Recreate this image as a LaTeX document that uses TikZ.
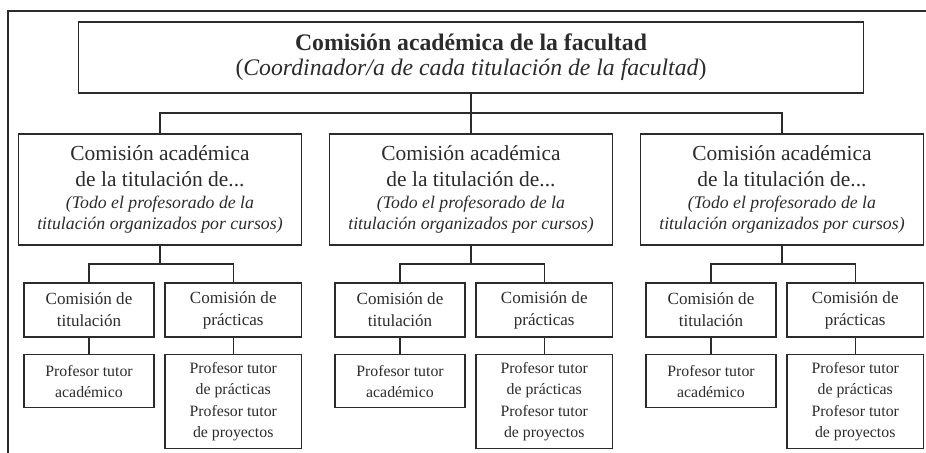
\documentclass[tikz,border=0pt]{standalone}
\usepackage{fontspec}
\setmainfont{Liberation Serif}
\definecolor{ink}{HTML}{2B2B2B}
\newcommand{\nota}[1]{{\fontsize{10.1}{12}\selectfont\itshape #1}}

\begin{document}
\begin{tikzpicture}[
        every node/.style={text=ink, inner sep=0pt, align=center},
        topbox/.style={draw=ink, line width=1.1pt, minimum width=15.7cm, minimum height=1.42cm, font=\fontsize{13.5}{15.4}\selectfont},
        groupbox/.style={draw=ink, line width=0.85pt, minimum width=5.66cm, minimum height=2.22cm, font=\fontsize{12.2}{16.5}\selectfont},
        subbox/.style={draw=ink, line width=0.8pt, minimum height=1.08cm, font=\fontsize{9.7}{12.5}\selectfont},
        tutorbox/.style={draw=ink, line width=0.8pt, anchor=north, font=\fontsize{9}{12.1}\selectfont},
        link/.style={draw=ink, line width=0.75pt}
    ]
        \useasboundingbox (0,0) rectangle (18.52,-9.06);
        \draw[ink, line width=1.4pt] (0.16,-9.1) -- (0.16,-0.22) -- (18.6,-0.22);

        \node[topbox] (top) at (9.42,-1.15) {\textbf{Comisión académica de la facultad}\\[-1pt](\textit{Coordinador/a de cada titulación de la facultad})};

        \node[groupbox] (G1) at (3.2,-3.79) {Comisión académica\\[-2pt]de la titulación de...\\[-4pt]\nota{(}\nota{Todo el profesorado de la}\\[-4.5pt]\nota{titulación organizados por cursos}\nota{)}};
        \node[groupbox] (G2) at (9.42,-3.79) {Comisión académica\\[-2pt]de la titulación de...\\[-4pt]\nota{(}\nota{Todo el profesorado de la}\\[-4.5pt]\nota{titulación organizados por cursos}\nota{)}};
        \node[groupbox] (G3) at (15.64,-3.79) {Comisión académica\\[-2pt]de la titulación de...\\[-4pt]\nota{(}\nota{Todo el profesorado de la}\\[-4.5pt]\nota{titulación organizados por cursos}\nota{)}};

        \node[subbox, minimum width=2.6cm] (T1) at (1.78,-6.2) {Comisión de\\titulación};
        \node[subbox, minimum width=2.73cm] (P1) at (4.665,-6.2) {Comisión de\\prácticas};
        \node[subbox, minimum width=2.6cm] (T2) at (8.0,-6.2) {Comisión de\\titulación};
        \node[subbox, minimum width=2.73cm] (P2) at (10.885,-6.2) {Comisión de\\prácticas};
        \node[subbox, minimum width=2.6cm] (T3) at (14.22,-6.2) {Comisión de\\titulación};
        \node[subbox, minimum width=2.73cm] (P3) at (17.105,-6.2) {Comisión de\\prácticas};

        \node[tutorbox, minimum width=2.6cm, minimum height=1.06cm] (A1) at (1.78,-7.08) {Profesor tutor\\académico};
        \node[tutorbox, minimum width=2.73cm, minimum height=1.88cm] (R1) at (4.665,-7.08) {Profesor tutor\\de prácticas\\Profesor tutor\\de proyectos};
        \node[tutorbox, minimum width=2.6cm, minimum height=1.06cm] (A2) at (8.0,-7.08) {Profesor tutor\\académico};
        \node[tutorbox, minimum width=2.73cm, minimum height=1.88cm] (R2) at (10.885,-7.08) {Profesor tutor\\de prácticas\\Profesor tutor\\de proyectos};
        \node[tutorbox, minimum width=2.6cm, minimum height=1.06cm] (A3) at (14.22,-7.08) {Profesor tutor\\académico};
        \node[tutorbox, minimum width=2.73cm, minimum height=1.88cm] (R3) at (17.105,-7.08) {Profesor tutor\\de prácticas\\Profesor tutor\\de proyectos};

        % buses
        \coordinate (bus) at (9.42,-2.26);
        \coordinate (bus1) at (3.2,-5.28);
        \coordinate (bus2) at (9.42,-5.28);
        \coordinate (bus3) at (15.64,-5.28);

        \draw[link] (top.south) -- (bus);
        \draw[link] (bus) -| (G1.north);
        \draw[link] (bus) -- (G2.north);
        \draw[link] (bus) -| (G3.north);

        \draw[link] (G1.south) -- (bus1);
        \draw[link] (T1.north) |- (bus1) -| (P1.north);
        \draw[link] (G2.south) -- (bus2);
        \draw[link] (T2.north) |- (bus2) -| (P2.north);
        \draw[link] (G3.south) -- (bus3);
        \draw[link] (T3.north) |- (bus3) -| (P3.north);

        \draw[link] (T1) -- (A1);
        \draw[link] (P1) -- (R1);
        \draw[link] (T2) -- (A2);
        \draw[link] (P2) -- (R2);
        \draw[link] (T3) -- (A3);
        \draw[link] (P3) -- (R3);
    \end{tikzpicture}
\end{document}
